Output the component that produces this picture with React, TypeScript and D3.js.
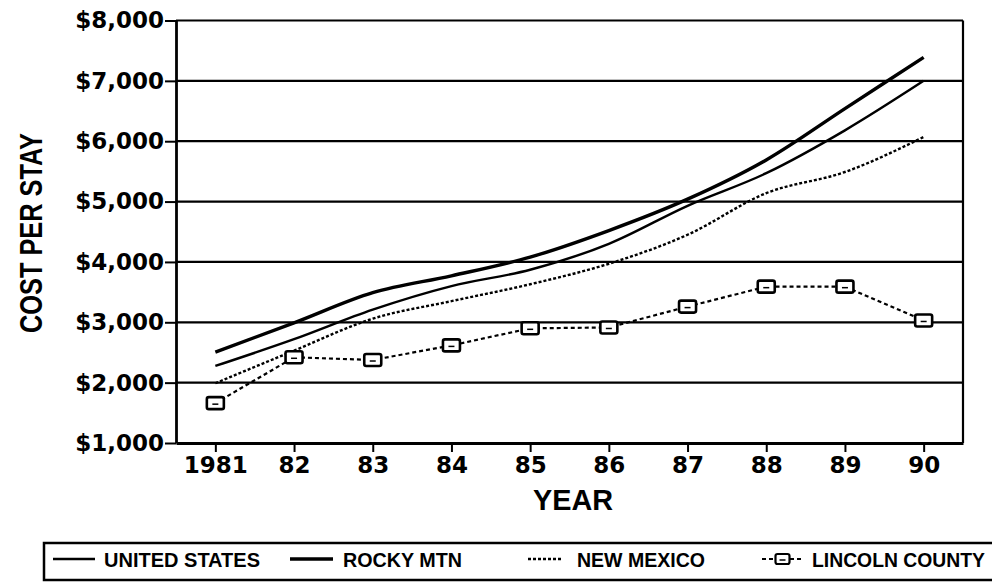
import { useEffect, useRef } from 'react';
import * as d3 from 'd3';

const years = ['1981', '82', '83', '84', '85', '86', '87', '88', '89', '90'];
const rockyMtn = [2506, 2990, 3490, 3770, 4080, 4520, 5040, 5690, 6540, 7390];
const unitedStates = [2276, 2720, 3210, 3600, 3870, 4300, 4930, 5470, 6180, 7000];
const newMexico = [1990, 2530, 3060, 3350, 3630, 3970, 4450, 5140, 5490, 6070];
const lincolnCounty = [1660, 2420, 2375, 2617, 2900, 2914, 3260, 3590, 3590, 3030];
const yTicks = [1000, 2000, 3000, 4000, 5000, 6000, 7000, 8000];

const WIDTH = 992;
const HEIGHT = 583;

export default function App() {
  const svgRef = useRef<SVGSVGElement>(null);

  useEffect(() => {
    if (!svgRef.current) return;
    const svg = d3.select(svgRef.current);
    svg.selectAll('*').remove();

    const left = 176;
    const right = 963;
    const top = 20.5;
    const bottom = 443;

    const x = d3.scalePoint<string>().domain(years).range([left, right]).padding(0.5);
    const y = d3.scaleLinear().domain([1000, 8000]).range([bottom, top]);

    const tickFont = "'DejaVu Sans', sans-serif";
    const labelFont = "'Liberation Sans', Arial, sans-serif";

    // grid lines
    svg.append('g')
      .selectAll('line')
      .data(yTicks.slice(1))
      .enter()
      .append('line')
      .attr('x1', left)
      .attr('x2', right)
      .attr('y1', d => y(d))
      .attr('y2', d => y(d))
      .attr('stroke', '#000')
      .attr('stroke-width', 2.2);

    // right border
    svg.append('line')
      .attr('x1', right).attr('x2', right)
      .attr('y1', top).attr('y2', bottom)
      .attr('stroke', '#000')
      .attr('stroke-width', 2.2);

    // Y axis
    const yAxis = svg.append('g')
      .attr('transform', `translate(${left},0)`)
      .call(
        d3.axisLeft(y)
          .tickValues(yTicks)
          .tickSize(11)
          .tickSizeOuter(0)
          .tickPadding(1)
          .tickFormat(d => '$' + d3.format(',')(d as number))
      );
    yAxis.select('.domain').attr('stroke', '#000').attr('stroke-width', 2.8);
    yAxis.selectAll('.tick line').attr('stroke', '#000').attr('stroke-width', 2);
    yAxis.selectAll('.tick text')
      .attr('fill', '#000')
      .attr('font-family', tickFont)
      .attr('font-weight', 'bold')
      .attr('font-size', '23px');

    // X axis
    const xAxis = svg.append('g')
      .attr('transform', `translate(0,${bottom})`)
      .call(d3.axisBottom(x).tickSize(9).tickSizeOuter(0).tickPadding(5));
    xAxis.select('.domain').attr('stroke', '#000').attr('stroke-width', 2.8);
    xAxis.selectAll('.tick line').attr('stroke', '#000').attr('stroke-width', 2);
    xAxis.selectAll('.tick text')
      .attr('fill', '#000')
      .attr('font-family', tickFont)
      .attr('font-weight', 'bold')
      .attr('font-size', '23px');

    // Axis titles
    svg.append('text')
      .attr('transform', 'translate(42,233) rotate(-90)')
      .attr('text-anchor', 'middle')
      .attr('font-family', labelFont)
      .attr('font-weight', 'bold')
      .attr('font-size', '31px')
      .attr('textLength', 200)
      .attr('lengthAdjust', 'spacingAndGlyphs')
      .text('COST PER STAY');

    svg.append('text')
      .attr('x', 573)
      .attr('y', 510)
      .attr('text-anchor', 'middle')
      .attr('font-family', labelFont)
      .attr('font-weight', 'bold')
      .attr('font-size', '29px')
      .attr('textLength', 80)
      .attr('lengthAdjust', 'spacingAndGlyphs')
      .text('YEAR');

    const series = [
      { label: 'UNITED STATES', values: unitedStates, width: 2.4, dash: null as string | null, curve: true, marker: false },
      { label: 'ROCKY MTN', values: rockyMtn, width: 3.4, dash: null, curve: true, marker: false },
      { label: 'NEW MEXICO', values: newMexico, width: 2.4, dash: '3,2', curve: true, marker: false },
      { label: 'LINCOLN COUNTY', values: lincolnCounty, width: 2.2, dash: '4,3', curve: false, marker: true }
    ];

    series.forEach(s => {
      const pts = s.values.map((v, i) => [years[i], v] as [string, number]);
      const line = d3.line<[string, number]>()
        .x(d => x(d[0]) as number)
        .y(d => y(d[1]))
        .curve(s.curve ? d3.curveMonotoneX : d3.curveLinear);
      svg.append('path')
        .datum(pts)
        .attr('fill', 'none')
        .attr('stroke', '#000')
        .attr('stroke-width', s.width)
        .attr('stroke-dasharray', s.dash)
        .attr('d', line);

      if (s.marker) {
        const m = svg.append('g')
          .selectAll('g')
          .data(pts)
          .enter()
          .append('g')
          .attr('transform', d => `translate(${x(d[0])},${y(d[1])})`);
        m.append('rect')
          .attr('x', -8.5).attr('y', -6)
          .attr('width', 17).attr('height', 12)
          .attr('rx', 2)
          .attr('fill', '#fff')
          .attr('stroke', '#000')
          .attr('stroke-width', 2.6);
        m.append('line')
          .attr('x1', -3).attr('x2', 3)
          .attr('y1', 1).attr('y2', 1)
          .attr('stroke', '#000')
          .attr('stroke-width', 1.5);
      }
    });

    // Legend
    const legend = svg.append('g');
    legend.append('rect')
      .attr('x', 44)
      .attr('y', 543)
      .attr('width', 960)
      .attr('height', 37)
      .attr('fill', 'none')
      .attr('stroke', '#000')
      .attr('stroke-width', 2.5);

    const legendLayout = [
      { x1: 53, x2: 95, tx: 104, tw: 156 },
      { x1: 290, x2: 333, tx: 343, tw: 119 },
      { x1: 528, x2: 563, tx: 577, tw: 128 },
      { x1: 762, x2: 803, tx: 812, tw: 173 }
    ];

    series.forEach((s, i) => {
      const l = legendLayout[i];
      legend.append('line')
        .attr('x1', l.x1).attr('x2', l.x2)
        .attr('y1', 559).attr('y2', 559)
        .attr('stroke', '#000')
        .attr('stroke-width', s.width)
        .attr('stroke-dasharray', s.dash);
      if (s.marker) {
        const cx = (l.x1 + l.x2) / 2;
        legend.append('rect')
          .attr('x', cx - 7).attr('y', 554)
          .attr('width', 14).attr('height', 10)
          .attr('rx', 2)
          .attr('fill', '#fff')
          .attr('stroke', '#000')
          .attr('stroke-width', 2.2);
        legend.append('line')
          .attr('x1', cx - 3).attr('x2', cx + 3)
          .attr('y1', 560).attr('y2', 560)
          .attr('stroke', '#000')
          .attr('stroke-width', 1.5);
      }
      legend.append('text')
        .attr('x', l.tx)
        .attr('y', 567)
        .attr('font-family', labelFont)
        .attr('font-weight', 'bold')
        .attr('font-size', '20px')
        .attr('textLength', l.tw)
        .attr('lengthAdjust', 'spacingAndGlyphs')
        .text(s.label);
    });
  }, []);

  return (
    <div style={{ position: 'absolute', left: 0, top: 0, width: WIDTH, height: HEIGHT, background: '#fff' }}>
      <svg ref={svgRef} width={WIDTH} height={HEIGHT} />
    </div>
  );
}
